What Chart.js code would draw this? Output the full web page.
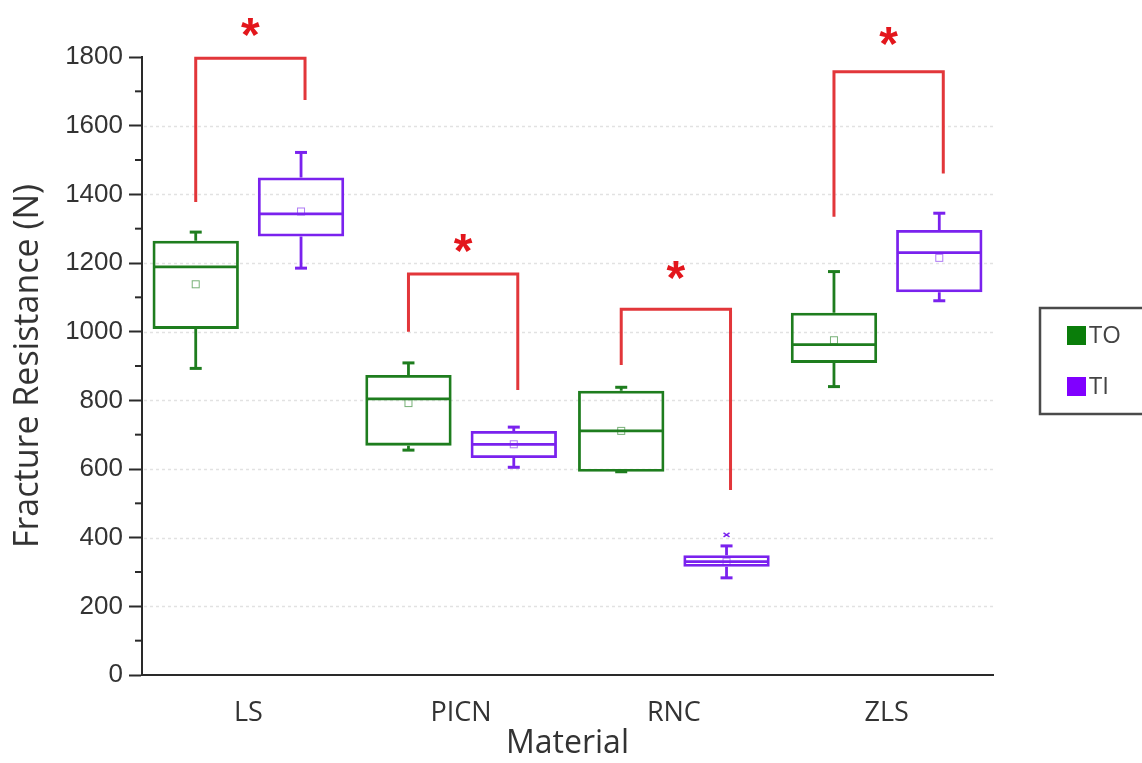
<!DOCTYPE html>
<html>
<head>
<meta charset="utf-8">
<script src="https://cdn.jsdelivr.net/npm/chart.js@4"></script>
<style>
    html, body { margin: 0; padding: 0; background: #fff; }
    #wrap { width: 1142px; height: 763px; }
</style>
</head>
<body>
<div id="wrap"><canvas id="chart" width="1142" height="763"></canvas></div>
<script>
// categories and box statistics (N)
const materials = ['LS', 'PICN', 'RNC', 'ZLS'];

const toMin    = [893, 655, 592, 840];
const toQ1     = [1008, 668, 592, 909];
const toMedian = [1189, 804, 711, 962];
const toQ3     = [1265, 874, 828, 1055];
const toMax    = [1290, 909, 838, 1175];
const toMean   = [1138, 792, 711, 975];

const tiMin    = [1185, 605, 283, 1090];
const tiQ1     = [1277, 632, 315, 1115];
const tiMedian = [1343, 672, 330, 1230];
const tiQ3     = [1449, 711, 349, 1296];
const tiMax    = [1522, 722, 376, 1345];
const tiMean   = [1350, 672, 330, 1215];
const tiOutliers = [[], [], [408], []];
const toOutliers = [[], [], [], []];

// significance brackets: top of bracket, ends of left/right legs, asterisk height
const bracketTop   = [1796, 1168, 1065, 1757];
const bracketLeft  = [1378, 1000, 903, 1335];
const bracketRight = [1675, 830, 539, 1461];
const starAt       = [1878, 1250, 1172, 1852];

const yTicks = [0, 200, 400, 600, 800, 1000, 1200, 1400, 1600, 1800];

const GREEN = '#1e7d1e';
const PURPLE = '#7a22ee';
const RED = '#e2363a';
const INK = '#2a2a2a';

const stats = [
    { min: toMin, q1: toQ1, med: toMedian, q3: toQ3, max: toMax, mean: toMean, out: toOutliers, color: GREEN },
    { min: tiMin, q1: tiQ1, med: tiMedian, q3: tiQ3, max: tiMax, mean: tiMean, out: tiOutliers, color: PURPLE }
];

// dotted grid + minor ticks on the y axis
const gridPlugin = {
    id: 'gridPlugin',
    beforeDatasetsDraw(chart) {
        const ctx = chart.ctx;
        const y = chart.scales.y;
        const area = chart.chartArea;
        ctx.save();
        ctx.strokeStyle = '#e2e2e2';
        ctx.lineWidth = 1.5;
        ctx.setLineDash([3, 3]);
        yTicks.forEach(v => {
            if (v === 0 || v === 1800) return;
            const py = Math.round(y.getPixelForValue(v)) + 0.5;
            ctx.beginPath();
            ctx.moveTo(area.left + 2, py);
            ctx.lineTo(area.right, py);
            ctx.stroke();
        });
        ctx.setLineDash([]);
        ctx.strokeStyle = INK;
        ctx.lineWidth = 2;
        for (let v = 100; v < 1800; v += 200) {
            const py = y.getPixelForValue(v);
            ctx.beginPath();
            ctx.moveTo(area.left - 7, py);
            ctx.lineTo(area.left, py);
            ctx.stroke();
        }
        ctx.restore();
    }
};

// whiskers, medians, means, outliers on top of the floating bars
const boxPlugin = {
    id: 'boxPlugin',
    afterDatasetsDraw(chart) {
        const ctx = chart.ctx;
        const y = chart.scales.y;
        ctx.save();
        stats.forEach((s, d) => {
            const meta = chart.getDatasetMeta(d);
            meta.data.forEach((el, i) => {
                const x = el.x;
                const half = el.width / 2;
                ctx.strokeStyle = s.color;
                ctx.lineWidth = 2.8;
                // whiskers
                ctx.beginPath();
                ctx.moveTo(x, y.getPixelForValue(s.q3[i]));
                ctx.lineTo(x, y.getPixelForValue(s.max[i]));
                ctx.moveTo(x, y.getPixelForValue(s.q1[i]));
                ctx.lineTo(x, y.getPixelForValue(s.min[i]));
                ctx.stroke();
                // caps
                ctx.lineWidth = 3;
                [s.max[i], s.min[i]].forEach(v => {
                    const py = y.getPixelForValue(v);
                    ctx.beginPath();
                    ctx.moveTo(x - 6, py);
                    ctx.lineTo(x + 6, py);
                    ctx.stroke();
                });
                // median
                ctx.lineWidth = 2.8;
                const pm = y.getPixelForValue(s.med[i]);
                ctx.beginPath();
                ctx.moveTo(x - half + 1, pm);
                ctx.lineTo(x + half - 1, pm);
                ctx.stroke();
                // mean
                ctx.lineWidth = 1;
                ctx.globalAlpha = 0.6;
                const pmean = y.getPixelForValue(s.mean[i]);
                ctx.strokeRect(x - 3.5, pmean - 3.5, 7, 7);
                ctx.globalAlpha = 1;
                // outliers
                ctx.lineWidth = 1.5;
                s.out[i].forEach(v => {
                    const po = y.getPixelForValue(v);
                    ctx.beginPath();
                    ctx.moveTo(x - 3, po - 2);
                    ctx.lineTo(x + 3, po + 2);
                    ctx.moveTo(x + 3, po - 2);
                    ctx.lineTo(x - 3, po + 2);
                    ctx.stroke();
                });
            });
        });
        ctx.restore();
    }
};

// red significance brackets, asterisks and the boxed legend
const annotPlugin = {
    id: 'annotPlugin',
    afterDraw(chart) {
        const ctx = chart.ctx;
        const y = chart.scales.y;
        const m0 = chart.getDatasetMeta(0).data;
        const m1 = chart.getDatasetMeta(1).data;
        ctx.save();
        ctx.strokeStyle = RED;
        ctx.lineWidth = 3;
        ctx.lineJoin = 'miter';
        materials.forEach((c, i) => {
            const xl = m0[i].x;
            const xr = m1[i].x + 4;
            const pt = y.getPixelForValue(bracketTop[i]);
            ctx.beginPath();
            ctx.moveTo(xl, y.getPixelForValue(bracketLeft[i]));
            ctx.lineTo(xl, pt);
            ctx.lineTo(xr, pt);
            ctx.lineTo(xr, y.getPixelForValue(bracketRight[i]));
            ctx.stroke();
            ctx.fillStyle = '#e3161c';
            ctx.font = 'bold 48px "Liberation Sans"';
            ctx.textAlign = 'center';
            ctx.textBaseline = 'middle';
            ctx.fillText('*', (xl + xr) / 2, y.getPixelForValue(starAt[i]) + 8);
        });

        // legend
        ctx.strokeStyle = '#4a4a4a';
        ctx.lineWidth = 2.5;
        ctx.strokeRect(1040, 308, 130, 106);
        const entries = [['TO', '#0a7d0a', 335], ['TI', '#8000ff', 386]];
        ctx.font = '24px "Open Sans"';
        ctx.textAlign = 'left';
        ctx.textBaseline = 'middle';
        entries.forEach(([label, col, cy]) => {
            ctx.fillStyle = col;
            ctx.fillRect(1067, cy - 9, 19, 19);
            ctx.fillStyle = '#444';
            ctx.fillText(label, 1089, cy + 1);
        });
        ctx.restore();
    }
};

new Chart(document.getElementById('chart'), {
    type: 'bar',
    data: {
        labels: materials,
        datasets: stats.map((s, d) => ({
            label: d === 0 ? 'TO' : 'TI',
            data: materials.map((c, i) => [s.q1[i], s.q3[i]]),
            backgroundColor: 'rgba(0,0,0,0)',
            borderColor: s.color,
            borderWidth: 2.8,
            borderSkipped: false,
            categoryPercentage: 0.99,
            barPercentage: 0.82
        }))
    },
    options: {
        responsive: false,
        animation: false,
        events: [],
        layout: { padding: { top: 57, right: 149, left: 0, bottom: 0 } },
        plugins: {
            legend: { display: false },
            tooltip: { enabled: false }
        },
        scales: {
            x: {
                grid: { display: false },
                border: { display: true, color: INK, width: 2 },
                ticks: {
                    color: '#333',
                    padding: 14,
                    font: { family: 'Open Sans', size: 27 }
                },
                title: {
                    display: true,
                    text: 'Material',
                    color: '#333',
                    padding: { top: 0, bottom: 0 },
                    font: { family: 'Open Sans', size: 32, lineHeight: 1.2 }
                },
                afterFit(scale) { scale.height = 88; }
            },
            y: {
                min: 0,
                max: 1800,
                ticks: {
                    stepSize: 200,
                    color: '#333',
                    padding: 6,
                    font: { family: 'Liberation Sans', size: 26 },
                    callback: (v) => String(v)
                },
                grid: {
                    drawOnChartArea: false,
                    drawTicks: true,
                    tickLength: 13,
                    tickColor: INK,
                    tickWidth: 2
                },
                border: { display: true, color: INK, width: 2 },
                title: {
                    display: true,
                    text: 'Fracture Resistance (N)',
                    color: '#333',
                    padding: { top: 8, bottom: 0 },
                    font: { family: 'Open Sans', size: 34, lineHeight: 1.2 }
                },
                afterFit(scale) { scale.width = 142; }
            }
        }
    },
    plugins: [gridPlugin, boxPlugin, annotPlugin]
});
</script>
</body>
</html>
